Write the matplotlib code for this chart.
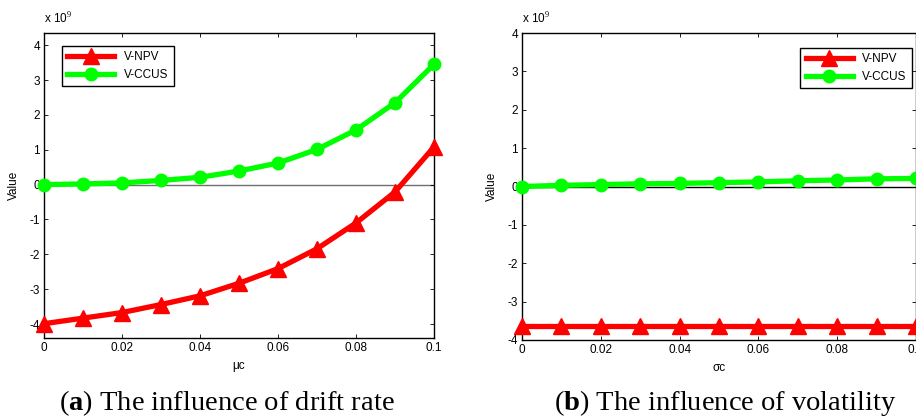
import numpy as np
import matplotlib
matplotlib.use("Agg")
import matplotlib.pyplot as plt

plt.rcParams['font.family'] = ['Liberation Sans', 'DejaVu Sans']
plt.rcParams['mathtext.fontset'] = 'custom'
plt.rcParams['mathtext.rm'] = 'Liberation Serif'
plt.rcParams['mathtext.bf'] = 'Liberation Serif:bold'

# data (values in units of 1e9)
x_vals = [0, 0.01, 0.02, 0.03, 0.04, 0.05, 0.06, 0.07, 0.08, 0.09, 0.1]

drift_npv = [-3.99, -3.83, -3.67, -3.44, -3.19, -2.83, -2.41, -1.84, -1.10, -0.21, 1.08]
drift_ccus = [0.0, 0.02, 0.05, 0.12, 0.21, 0.39, 0.62, 1.01, 1.57, 2.35, 3.45]

vol_npv = [-3.64, -3.64, -3.64, -3.64, -3.64, -3.64, -3.64, -3.64, -3.64, -3.64, -3.64]
vol_ccus = [0.0, 0.03, 0.05, 0.07, 0.08, 0.10, 0.12, 0.15, 0.17, 0.20, 0.21]

xticks = [0, 0.02, 0.04, 0.06, 0.08, 0.1]
xtick_labels = ['0', '0.02', '0.04', '0.06', '0.08', '0.1']
yticks = [-4, -3, -2, -1, 0, 1, 2, 3, 4]

fig = plt.figure(figsize=(9.16, 4.18), dpi=100)

ax1 = fig.add_axes([44/916, 80/418, 390/916, 305/418])
ax2 = fig.add_axes([522/916, 78/418, 394/916, 307/418])


def draw(ax, npv, ccus, ylim, xlabel, zero_color, leg_anchor, leg_loc):
    ax.axhline(0, color=zero_color, lw=1.0, zorder=1)
    ax.plot(x_vals, npv, color='#ff0000', lw=3.8, marker='^', ms=11,
            label='V-NPV', zorder=3, clip_on=False)
    ax.plot(x_vals, ccus, color='#00ff00', lw=3.8, marker='o', ms=9,
            label='V-CCUS', zorder=3, clip_on=False)
    ax.set_xlim(0, 0.1)
    ax.set_ylim(*ylim)
    ax.set_xticks(xticks)
    ax.set_xticklabels(xtick_labels)
    ax.set_yticks(yticks)
    ax.set_yticklabels([str(t) for t in yticks])
    ax.tick_params(direction='in', top=True, right=True, labelsize=8.5,
                   length=3, width=0.6, pad=3)
    for s in ax.spines.values():
        s.set_linewidth(1.0)
    ax.set_xlabel(xlabel, fontsize=8.5, labelpad=4)
    ax.set_ylabel('Value', fontsize=8.5, labelpad=7)
    ax.text(0.0, 1.02, r'x 10$^{9}$', transform=ax.transAxes, fontsize=8.5,
            ha='left', va='bottom')
    leg = ax.legend(loc=leg_loc, bbox_to_anchor=leg_anchor, fontsize=8.5,
                    fancybox=False, framealpha=1, edgecolor='black',
                    handlelength=4.0, borderpad=0.45, labelspacing=0.45,
                    handletextpad=0.8, borderaxespad=0)
    leg.get_frame().set_linewidth(1.0)


draw(ax1, drift_npv, drift_ccus, (-4.4, 4.35), 'μc', '#707070',
     (0.046, 0.957), 'upper left')
draw(ax2, vol_npv, vol_ccus, (-4, 4), 'σc', 'black',
     (0.99, 0.951), 'upper right')

fig.text(227/916, 1 - 403/418, r'($\mathbf{a}$) The influence of drift rate',
         fontsize=20.5, family='Liberation Serif', ha='center', va='center')
fig.text(725/916, 1 - 403/418, r'($\mathbf{b}$) The influence of volatility',
         fontsize=20.5, family='Liberation Serif', ha='center', va='center')

fig.savefig('out.png', dpi=100)
